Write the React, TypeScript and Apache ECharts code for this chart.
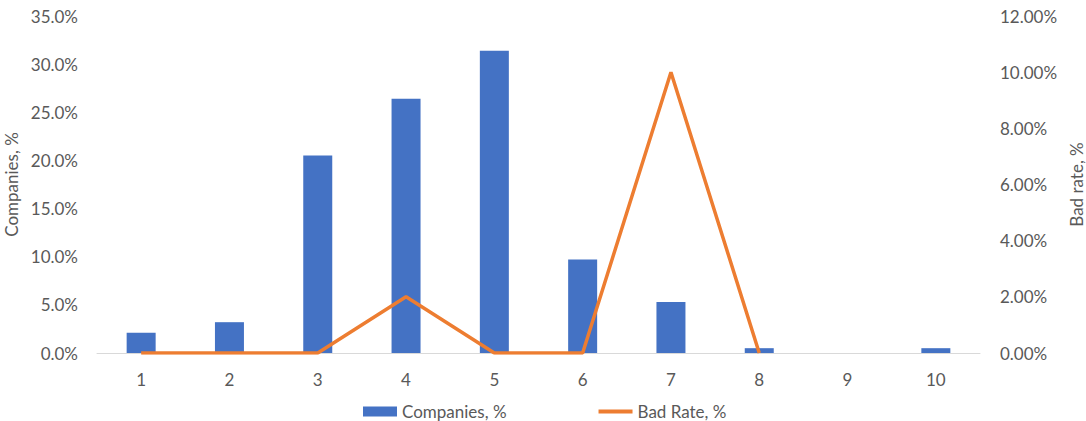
import React, { useEffect, useRef } from "react";
import * as echarts from "echarts";

const categories = ["1", "2", "3", "4", "5", "6", "7", "8", "9", "10"];
const companiesPct = [2.1, 3.2, 20.5, 26.4, 31.4, 9.7, 5.3, 0.5, 0, 0.5];
const badRatePct = [0, 0, 0, 2.0, 0, 0, 10.0, 0, null, null];
const leftTicks = { min: 0, max: 35, interval: 5 };
const rightTicks = { min: 0, max: 12, interval: 2 };

const FONT = "Lato, 'Open Sans', sans-serif";
const TXT = "#595959";
const FS = 17;

export default function App() {
  const ref = useRef<HTMLDivElement>(null);
  useEffect(() => {
    if (!ref.current) return;
    const chart = echarts.init(ref.current, undefined, { renderer: "svg" });
    chart.setOption({
      animation: false,
      textStyle: { fontFamily: FONT },
      grid: { left: 97, right: 106, top: 16, bottom: 68, containLabel: false, outerBoundsMode: "none" },
      legend: {
        top: 398,
        left: 358,
        itemGap: 92,
        itemWidth: 34,
        itemHeight: 10,
        textStyle: { color: TXT, fontSize: FS, fontFamily: FONT },
        data: [
          { name: "Companies, %", icon: "rect" },
          { name: "Bad Rate, %", icon: "path://M0,0H34V4H0Z" },
        ],
      },
      xAxis: {
        type: "category",
        data: categories,
        axisLine: { lineStyle: { color: "#D9D9D9", width: 1 } },
        axisTick: { show: false },
        axisLabel: { color: TXT, fontSize: FS, margin: 18 },
      },
      yAxis: [
        {
          type: "value",
          ...leftTicks,
          name: "Companies, %",
          nameLocation: "middle",
          nameGap: 75,
          nameTextStyle: { color: TXT, fontSize: FS },
          splitLine: { show: false },
          axisLine: { show: false },
          axisLabel: { color: TXT, fontSize: FS, margin: 19, formatter: (v: number) => v.toFixed(1) + "%" },
        },
        {
          type: "value",
          ...rightTicks,
          name: "Bad rate, %",
          nameLocation: "middle",
          nameGap: 85,
          nameRotate: 90,
          nameTextStyle: { color: TXT, fontSize: FS },
          splitLine: { show: false },
          axisLine: { show: false },
          axisLabel: { color: TXT, fontSize: FS, margin: 20, formatter: (v: number) => v.toFixed(2) + "%" },
        },
      ],
      series: [
        {
          name: "Companies, %",
          type: "bar",
          data: companiesPct,
          barWidth: 29,
          itemStyle: { color: "#4472C4" },
        },
        {
          name: "Bad Rate, %",
          type: "line",
          yAxisIndex: 1,
          data: badRatePct,
          symbol: "none",
          lineStyle: { color: "#ED7D31", width: 3.5 },
          itemStyle: { color: "#ED7D31" },
        },
      ],
    });
    return () => chart.dispose();
  }, []);
  return (
    <div
      ref={ref}
      style={{ position: "absolute", left: 0, top: 0, width: 1086, height: 421 }}
    />
  );
}
